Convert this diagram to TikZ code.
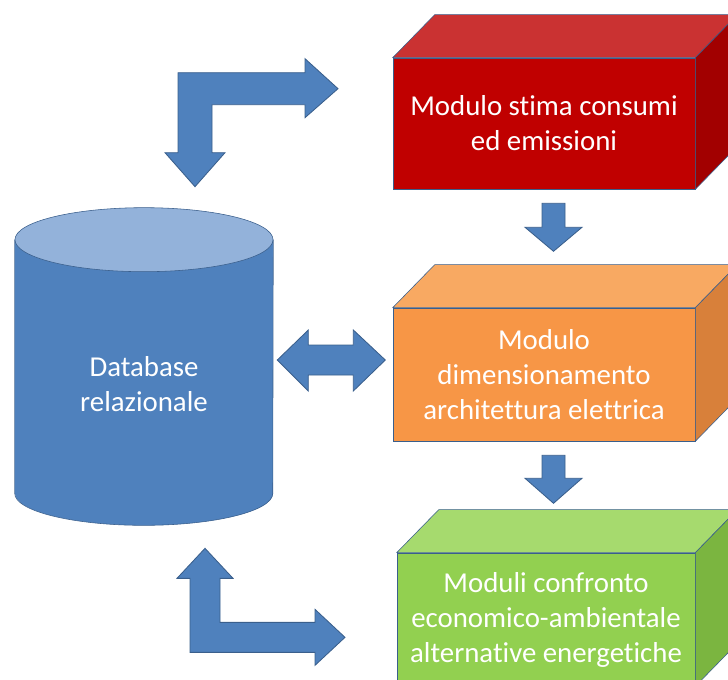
\documentclass[tikz,border=0pt]{standalone}
\usepackage{fontspec}
\setmainfont{Carlito}[Ligatures=NoCommon]
\usetikzlibrary{calc}

\definecolor{dbblue}{HTML}{4F81BD}
\definecolor{dbtop}{HTML}{93B2DA}
\definecolor{edgeblue}{HTML}{3A5F8C}
\definecolor{redfront}{HTML}{C00000}
\definecolor{redtop}{HTML}{CA3232}
\definecolor{redside}{HTML}{A20000}
\definecolor{orangefront}{HTML}{F79646}
\definecolor{orangetop}{HTML}{F8A962}
\definecolor{orangeside}{HTML}{D8803A}
\definecolor{greenfront}{HTML}{92D050}
\definecolor{greentop}{HTML}{A6DA6E}
\definecolor{greenside}{HTML}{7BB540}

% top and right faces of a module box
\newcommand{\boxfaces}[3]{%
    \draw[edgeblue, fill=#2] (#1.north west) -- ++(42,-43) -- ($(#1.north east)+(42,-43)$) -- (#1.north east) -- cycle;
    \draw[edgeblue, fill=#3] (#1.north east) -- ++(42,-43) -- ($(#1.south east)+(42,-43)$) -- (#1.south east) -- cycle;
}

\tikzset{
    modbox/.style={rectangle, draw=edgeblue, inner sep=0pt, align=center, text=white,
        font=\fontsize{20.5}{24.9}\selectfont, minimum width=7.55cm, minimum height=3.3cm},
    dbtext/.style={align=center, text=white, font=\fontsize{20.5}{24.9}\selectfont},
    blockarrow/.style={fill=dbblue, draw=edgeblue, line width=0.6pt, line join=miter},
}

\begin{document}
\begin{tikzpicture}[x=0.025cm, y=-0.025cm]
    \useasboundingbox (0,0) rectangle (728,679);
    \clip (0,0) rectangle (728,679);

    % modules
    \node[modbox, fill=redfront, minimum height=3.275cm] (stima) at (544,123.5) {Modulo stima consumi\\ed emissioni};
    \node[modbox, fill=orangefront, minimum height=3.325cm] (dimens) at (544,374.5) {Modulo\\dimensionamento\\architettura elettrica};
    \node[modbox, fill=greenfront, minimum width=7.45cm, minimum height=3.325cm] (confronto) at (546,619.5) {Moduli confronto\\economico-ambientale\\alternative energetiche};
    \boxfaces{stima}{redtop}{redside}
    \boxfaces{dimens}{orangetop}{orangeside}
    \boxfaces{confronto}{greentop}{greenside}

    % database
    \node[minimum width=6.45cm, minimum height=7.925cm, inner sep=0pt] (db) at (144,366.5) {};
    \fill[dbblue] ($(db.north west)+(0,32)$) rectangle ($(db.south east)+(0,-32)$);
    \fill[dbblue] ($(db.south)+(0,-32)$) ellipse [x radius=3.225cm, y radius=0.8cm];
    \draw[edgeblue] ($(db.north west)+(0,32)$) -- ($(db.south west)+(0,-32)$)
        arc [start angle=180, end angle=360, x radius=3.225cm, y radius=0.8cm]
        -- ($(db.north east)+(0,32)$);
    \draw[edgeblue, fill=dbtop] ($(db.north)+(0,32)$) ellipse [x radius=3.225cm, y radius=0.8cm];
    \node[dbtext] (dblabel) at ($(db.center)+(0,18)$) {Database\\relazionale};

    % arrows
    \draw[blockarrow] ($(db.north)+(51,-21)$) -- ++(-30,-34) -- ++(13,0) -- ++(0,-80) -- ++(127,0)
        -- ++(0,-14) -- ++(33,30) -- ++(-33,29) -- ++(0,-13) -- ++(-93,0) -- ++(0,48) -- ++(13,0) -- cycle;
    \draw[blockarrow] ($(db.south)+(61,23)$) -- ++(28,30) -- ++(-13,0) -- ++(0,44) -- ++(95,0)
        -- ++(0,-13) -- ++(30,28) -- ++(-30,28) -- ++(0,-13) -- ++(-125,0) -- ++(0,-74) -- ++(-13,0) -- cycle;
    \draw[blockarrow] ($(db.east)+(4,-6.5)$) -- ++(31,-30) -- ++(0,15) -- ++(45,0) -- ++(0,-15) -- ++(32,30)
        -- ++(-32,31) -- ++(0,-16) -- ++(-45,0) -- ++(0,16) -- cycle;
    \draw[blockarrow] ($(stima.south)+(-2,14)$) -- ++(23,0) -- ++(0,24) -- ++(17,0) -- ++(-28.5,24)
        -- ++(-28.5,-24) -- ++(17,0) -- cycle;
    \draw[blockarrow] ($(dimens.south)+(-2,14)$) -- ++(23,0) -- ++(0,23) -- ++(17,0) -- ++(-28.5,25)
        -- ++(-28.5,-25) -- ++(17,0) -- cycle;
\end{tikzpicture}
\end{document}
